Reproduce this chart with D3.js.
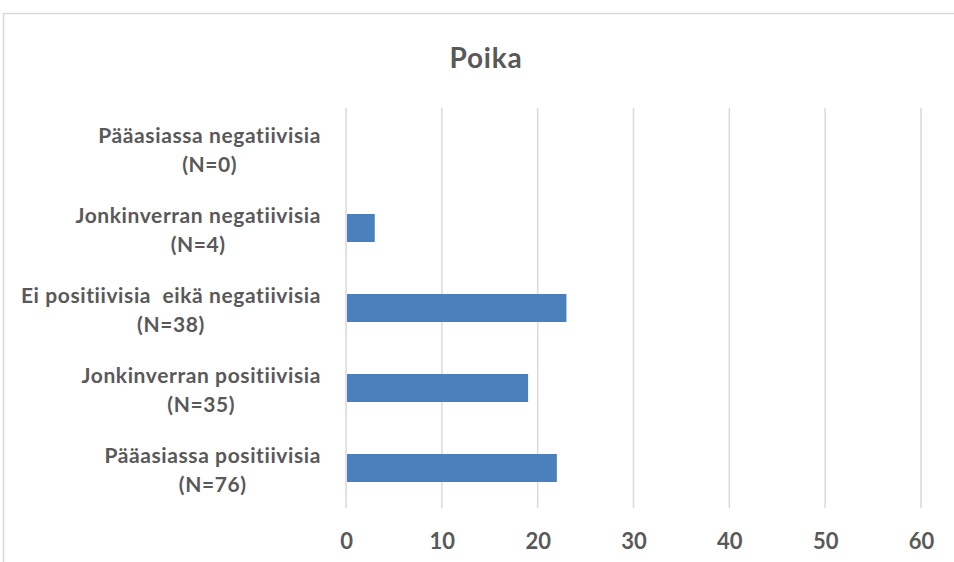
<!DOCTYPE html>
<html>
<head>
<meta charset="utf-8">
<script src="https://cdn.jsdelivr.net/npm/d3@7"></script>
<style>
  body { margin: 0; background: #fff; }
  svg { display: block; font-family: Lato, "Open Sans", sans-serif; }
</style>
</head>
<body>
<svg id="chart" width="954" height="562"></svg>
<script>
// Data
const categories = [
  'Pääasiassa negatiivisia',
  'Jonkinverran negatiivisia',
  'Ei positiivisia  eikä negatiivisia',
  'Jonkinverran positiivisia',
  'Pääasiassa positiivisia'
]
const n_labels = ['(N=0)', '(N=4)', '(N=38)', '(N=35)', '(N=76)']
const values = [0, 3, 23, 19, 22]
const x_ticks = [0, 10, 20, 30, 40, 50, 60]
const title_text = 'Poika'

const text_color = '#595959'
const grid_color = '#d9d9d9'
const bar_color = '#4a81bd'

let svg = d3.select('#chart')

// Outer frame (runs off the right and bottom edge)
svg.append('rect')
  .attr('x', 3.5)
  .attr('y', 13.5)
  .attr('width', 1000)
  .attr('height', 600)
  .style('fill', 'white')
  .style('stroke', grid_color)
  .style('stroke-width', 1.5)

// Title
svg.append('text')
  .attr('x', 486)
  .attr('y', 68)
  .attr('text-anchor', 'middle')
  .style('font-size', '28px')
  .style('font-weight', 'bold')
  .style('letter-spacing', '0.8px')
  .style('fill', text_color)
  .text(title_text)

// Scales
let x = d3.scaleLinear().domain([0, 60]).range([346, 921])
let y = d3.scaleBand()
  .domain(categories)
  .range([108, 508])
  .paddingInner(0.65)
  .paddingOuter(0.325)

// Gridlines
svg.append('g')
  .selectAll('line')
  .data(x_ticks)
  .join('line')
  .attr('x1', d => x(d))
  .attr('x2', d => x(d))
  .attr('y1', 108)
  .attr('y2', 508)
  .style('stroke', grid_color)
  .style('stroke-width', 1.5)

// Bars
svg.append('g')
  .selectAll('rect')
  .data(values)
  .join('rect')
  .attr('x', x(0) + 1)
  .attr('y', (d, i) => y(categories[i]))
  .attr('width', d => Math.max(0, x(d) - x(0) - 1))
  .attr('height', y.bandwidth())
  .style('fill', bar_color)

// X axis tick labels
let x_axis = svg.append('g')
  .attr('transform', 'translate(0, 508)')
  .call(d3.axisBottom(x).tickValues(x_ticks).tickSize(0).tickPadding(25))
x_axis.select('.domain').remove()
x_axis.selectAll('text')
  .style('font-size', '22px')
  .style('font-weight', 'bold')
  .style('font-family', 'Lato, "Open Sans", sans-serif')
  .style('fill', text_color)

// Category labels: right aligned block, lines centred within the block
let label_right = 321
let label_g = svg.append('g')
categories.forEach((c, i) => {
  let cy = y(c) + y.bandwidth() / 2
  let g = label_g.append('g')
  let t1 = g.append('text')
    .attr('y', cy - 5)
    .attr('text-anchor', 'middle')
    .style('font-size', '21px')
    .style('font-weight', 'bold')
    .style('letter-spacing', '0.6px')
    .style('fill', text_color)
    .style('white-space', 'pre')
    .text(c)
  let t2 = g.append('text')
    .attr('y', cy + 24)
    .attr('text-anchor', 'middle')
    .style('font-size', '21px')
    .style('font-weight', 'bold')
    .style('letter-spacing', '0.6px')
    .style('fill', text_color)
    .text(n_labels[i])
  let w = Math.max(t1.node().getComputedTextLength(), t2.node().getComputedTextLength())
  t1.attr('x', label_right - w / 2)
  t2.attr('x', label_right - w / 2)
})
</script>
</body>
</html>
